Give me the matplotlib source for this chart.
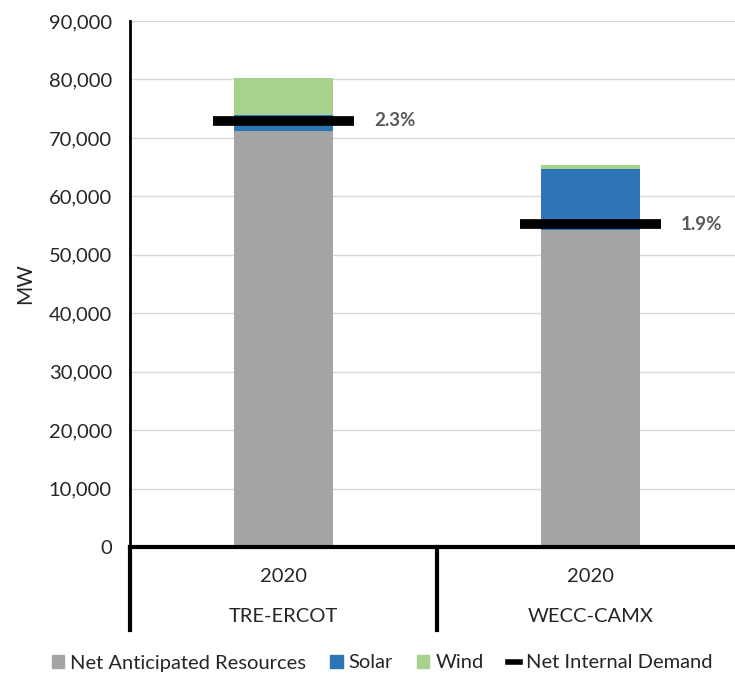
import matplotlib
matplotlib.use("Agg")
import matplotlib.pyplot as plt
from matplotlib.lines import Line2D
from matplotlib.patches import Patch

plt.rcParams['font.family'] = ['Lato', 'DejaVu Sans']

years = ["2020", "2020"]
regions = ["TRE-ERCOT", "WECC-CAMX"]
net_anticipated = [71200, 54300]
solar = [2700, 10300]
wind = [6300, 800]
net_internal_demand = [72900, 55200]
pct_labels = ["2.3%", "1.9%"]

c_gray = "#A5A5A5"
c_blue = "#2E75B6"
c_green = "#A9D18E"
txt = "#262626"

fig = plt.figure(figsize=(7.35, 6.75), dpi=100)
ax = fig.add_axes([130/735, 1-547/675, 614/735, 526/675])

x = list(range(len(regions)))
bw = 0.32
ax.bar(x, net_anticipated, width=bw, color=c_gray, zorder=2)
ax.bar(x, solar, width=bw, bottom=net_anticipated, color=c_blue, zorder=2)
bot2 = [a + b for a, b in zip(net_anticipated, solar)]
ax.bar(x, wind, width=bw, bottom=bot2, color=c_green, zorder=2)

lw = 0.46
for xi, d, lab in zip(x, net_internal_demand, pct_labels):
    ax.plot([xi - lw/2, xi + lw/2], [d, d], color="black", lw=7, solid_capstyle="butt", zorder=3)
    ax.text(xi + lw/2 + 0.065, d, lab, ha="left", va="center", fontsize=13.5,
            fontweight="bold", color="#595959")

ax.set_xlim(-0.5, 1.5)
ax.set_ylim(0, 90000)
ax.set_yticks(range(0, 90001, 10000))
ax.set_yticklabels([f"{v:,}" for v in range(0, 90001, 10000)], fontsize=14.5, color=txt)
ax.yaxis.grid(True, color="#D9D9D9", lw=1, zorder=0)
ax.set_axisbelow(True)
ax.tick_params(axis="y", length=0, pad=13)
ax.set_xticks([])
ax.set_ylabel("MW", fontsize=15, color=txt, labelpad=10)

for s in ["top", "right"]:
    ax.spines[s].set_visible(False)
ax.spines["left"].set_linewidth(2)
ax.spines["bottom"].set_linewidth(3)

trans = ax.get_xaxis_transform()
y_low = -(630-547)/526
ax.plot([-0.5, -0.5], [0, y_low], transform=trans, color="black", lw=3, clip_on=False)
ax.plot([0.5, 0.5], [0, y_low], transform=trans, color="black", lw=3, clip_on=False)

for xi, yr, rg in zip(x, years, regions):
    ax.text(xi, -(576-547)/526, yr, transform=trans, ha="center", va="center", fontsize=14.5, color=txt)
    ax.text(xi, -(617-547)/526, rg, transform=trans, ha="center", va="center", fontsize=14.5, color=txt)

handles = [Patch(color=c_gray, label="Net Anticipated Resources"),
           Patch(color=c_blue, label="Solar"),
           Patch(color=c_green, label="Wind"),
           Line2D([0], [0], color="black", lw=4, label="Net Internal Demand")]
fig.legend(handles=handles, loc="center", bbox_to_anchor=(0.52, 1-663/675), ncol=4,
           frameon=False, fontsize=14.5, handlelength=0.6, handleheight=0.6,
           columnspacing=1.2, handletextpad=0.3, labelcolor=txt)

fig.savefig("out.png", dpi=100)
